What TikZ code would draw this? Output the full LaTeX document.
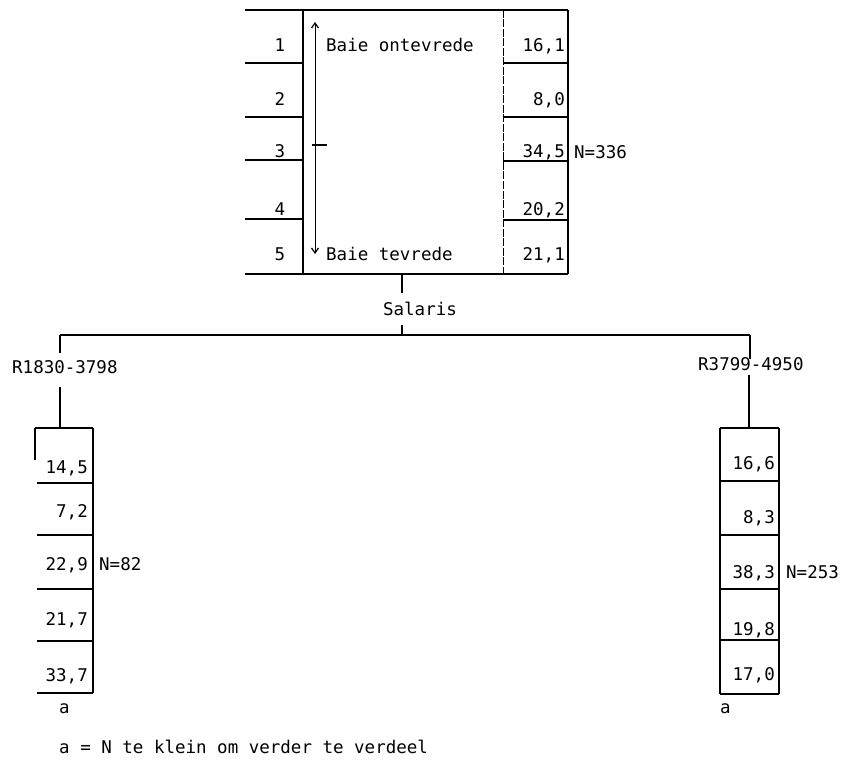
\documentclass[tikz,border=0pt]{standalone}
\usepackage{fontspec}
\newfontfamily\tw{DejaVu Sans Mono}
\usetikzlibrary{arrows.meta}
\begin{document}
\begin{tikzpicture}[x=1pt,y=-1pt,
  hline/.style={line width=2.1pt},
  vline/.style={line width=1.1pt},
  thinv/.style={line width=0.7pt},
  txt/.style={font=\tw\fontsize{17.5}{20}\selectfont, inner sep=0pt}]
\useasboundingbox (0,0) rectangle (845,762);
% ---------- top block ----------
\coordinate (tl) at (245,10);
\coordinate (tr) at (568,10);
\coordinate (bl) at (245,274);
\coordinate (br) at (568,274);
\draw[hline] (tl) -- (tr);
\draw[hline] (bl) -- (br);
\draw[vline] (303,10) -- (303,274);
\draw[thinv, dash pattern=on 8pt off 1.5pt] (503,10) -- (503,274);
\draw[vline] (568,10) -- (568,274);
\foreach \y in {63,117,160,219} \draw[hline] (245,\y) -- (302,\y);
\foreach \y in {63,117,161,220} \draw[hline] (503,\y) -- (568,\y);
\foreach \n/\y in {1/52,2/106,3/158,4/215,5/260}
  \node[txt, anchor=base] (r\n) at (280,\y) {\n};
\foreach \n/\v/\y in {1/{16,1}/52,2/{8,0}/106,3/{34,5}/158,4/{20,2}/215,5/{21,1}/260}
  \node[txt, anchor=base east] (v\n) at (565,\y) {\v};
\node[txt, anchor=base west] (ntop) at (574,159) {N=336};
\node[txt, anchor=base west] (ont) at (326,52) {Baie ontevrede};
\node[txt, anchor=base west] (tev) at (326,260) {Baie tevrede};
\coordinate (atop) at (315,22);
\coordinate (abot) at (315,254);
\draw[line width=0.9pt, {Straight Barb[length=5pt,width=7pt,line width=1.2pt]}-{Straight Barb[length=5pt,width=7pt,line width=1.2pt]}] (atop) -- (abot);
\draw[line width=1.4pt] (312,145) -- (327,145);
% ---------- Salaris split ----------
\coordinate (stem0) at (402,274);
\coordinate (stem1) at (402,293);
\node[txt, anchor=base] (sal) at (420,315) {Salaris};
\coordinate (stem2) at (402,325);
\coordinate (barC) at (402,335);
\coordinate (barL) at (60,335);
\coordinate (barR) at (750,335);
\draw[vline] (stem0) -- (stem1);
\draw[vline] (stem2) -- (barC);
\draw[hline] (barL) -- (barR);
% left branch
\node[txt, anchor=base west] (lab1) at (12,373) {R1830-3798};
\coordinate (l1) at (60,353);
\coordinate (l2) at (60,387);
\coordinate (l3) at (60,428);
\draw[vline] (barL) -- (l1);
\draw[vline] (l2) -- (l3);
% right branch
\node[txt, anchor=base west] (lab2) at (698,370) {R3799-4950};
\coordinate (r1) at (750,359);
\coordinate (r2) at (749,375);
\coordinate (r3) at (749,428);
\draw[vline] (barR) -- (r1);
\draw[vline] (r2) -- (r3);
% ---------- left box ----------
\draw[hline] (35,428) -- (93,428);
\draw[vline] (35,428) -- (35,460);
\draw[vline] (93,428) -- (93,693);
\foreach \y in {483,535,589,641,693} \draw[hline] (37,\y) -- (93,\y);
\foreach \n/\v/\y in {1/{14,5}/473,2/{7,2}/517,3/{22,9}/570,4/{21,7}/625,5/{33,7}/681}
  \node[txt, anchor=base east] (lv\n) at (88,\y) {\v};
\node[txt, anchor=base west] (nl) at (99,570) {N=82};
\node[txt, anchor=base west] (al) at (59,713) {a};
% ---------- right box ----------
\draw[hline] (720,428) -- (779,428);
\draw[vline] (720,428) -- (720,694);
\draw[vline] (779,428) -- (779,694);
\foreach \y in {481,535,589,640,694} \draw[hline] (720,\y) -- (779,\y);
\foreach \n/\v/\y in {1/{16,6}/469,2/{8,3}/523,3/{38,3}/578,4/{19,8}/635,5/{17,0}/680}
  \node[txt, anchor=base east] (rv\n) at (775,\y) {\v};
\node[txt, anchor=base west] (nr) at (786,578) {N=253};
\node[txt, anchor=base west] (ar) at (720,713) {a};
% ---------- footnote ----------
\node[txt, anchor=base west] (foot) at (59,753) {a = N te klein om verder te verdeel};
\end{tikzpicture}
\end{document}
